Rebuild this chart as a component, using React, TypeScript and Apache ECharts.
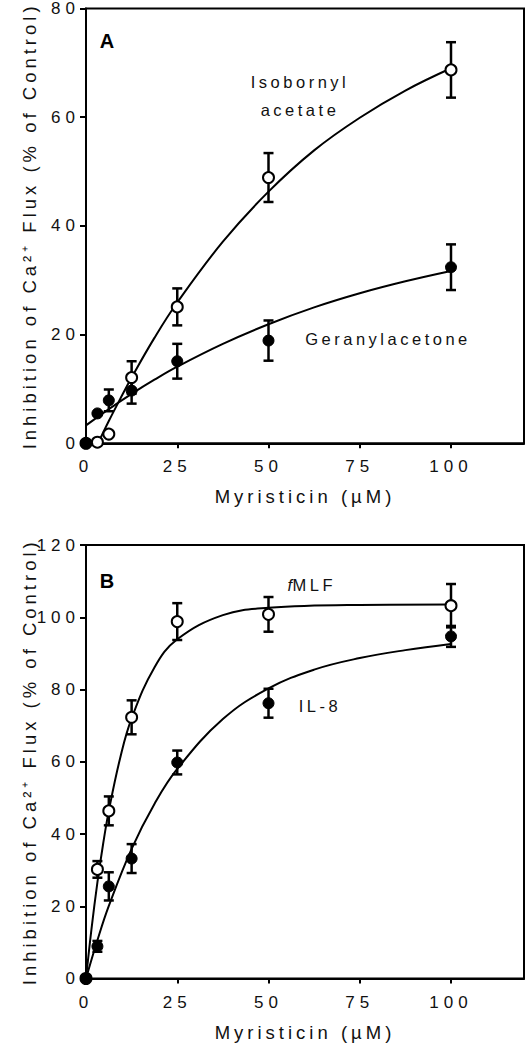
import React, { useEffect, useRef } from "react";
import * as echarts from "echarts";

// ---- data ----
const DOSES = [0, 3.125, 6.25, 12.5, 25, 50, 100];

// Panel A
const A_ISO_MEAN = [0, 0.2, 1.7, 12.1, 25.1, 48.9, 68.7];
const A_ISO_SEM = [0, 0, 0, 3.0, 3.4, 4.5, 5.1];
const A_GER_MEAN = [0, 5.5, 7.9, 9.7, 15.1, 18.9, 32.4];
const A_GER_SEM = [0, 0, 2.0, 2.4, 3.2, 3.7, 4.2];

const A_FIT_ISO_X = [3.3, 6.25, 9.4, 12.5, 18.75, 25, 37.5, 50, 62.5, 75, 87.5, 100];
const A_FIT_ISO_Y = [0, 4.1, 8.2, 12.1, 19.4, 25.9, 37.1, 46.3, 53.9, 59.9, 64.9, 69.0];
const A_FIT_GER_X = [0, 6.25, 12.5, 18.75, 25, 37.5, 50, 62.5, 75, 87.5, 100];
const A_FIT_GER_Y = [3.3, 6.3, 9.1, 11.7, 14.1, 18.3, 21.9, 25.0, 27.6, 29.8, 31.7];

// Panel B
const B_FMLF_MEAN = [0, 30.2, 46.4, 72.3, 98.8, 100.8, 103.2];
const B_FMLF_SEM = [0, 2.3, 4.0, 4.7, 5.1, 4.8, 6.0];
const B_IL8_MEAN = [0, 8.9, 25.5, 33.2, 59.8, 76.2, 94.7];
const B_IL8_SEM = [0, 1.5, 3.9, 4.0, 3.3, 4.0, 2.9];

const B_FIT_FMLF_X = [0, 1.5, 3.125, 4.7, 6.25, 9.4, 12.5, 18.75, 25, 37.5, 50, 75, 100];
const B_FIT_FMLF_Y = [0, 13.7, 26.6, 37.3, 46.4, 61.2, 72.0, 86.1, 93.9, 100.6, 102.6, 103.4, 103.5];
const B_FIT_IL8_X = [0, 3.125, 6.25, 12.5, 18.75, 25, 37.5, 50, 62.5, 75, 87.5, 100];
const B_FIT_IL8_Y = [0, 10.6, 20.1, 35.9, 48.3, 58.0, 71.8, 80.3, 85.5, 88.7, 90.9, 92.6];

// ---- axes / labels ----
const X_TICKS = [0, 25, 50, 75, 100];
const X_MAX = 120;
const Y_MAX = [80, 120];
const Y_INTERVAL = 20;
const X_TITLE = "Myristicin (µM)";
const Y_TITLE = "Inhibition of Ca²⁺ Flux (% of Control)";

const FONT = '"Liberation Sans", Arial, Helvetica, sans-serif';
const TXT = "#111";

const pairs = (xs: number[], ys: number[]) => xs.map((x, i) => [x, ys[i]]);
const triples = (xs: number[], ys: number[], es: number[]) => xs.map((x, i) => [x, ys[i], es[i]]);

function errorBarRender(params: any, api: any) {
  const x = api.value(0);
  const y = api.value(1);
  const e = api.value(2);
  if (!e) return null;
  const top = api.coord([x, y + e]);
  const bot = api.coord([x, y - e]);
  const hw = 5;
  const style = { stroke: "#000", lineWidth: 2.5 };
  return {
    type: "group",
    children: [
      { type: "line", shape: { x1: top[0], y1: top[1], x2: bot[0], y2: bot[1] }, style },
      { type: "line", shape: { x1: top[0] - hw, y1: top[1], x2: top[0] + hw, y2: top[1] }, style },
      { type: "line", shape: { x1: bot[0] - hw, y1: bot[1], x2: bot[0] + hw, y2: bot[1] }, style },
    ],
  };
}

function panelSeries(
  gi: number,
  openMean: number[],
  openSem: number[],
  filledMean: number[],
  filledSem: number[],
  fitOpen: number[][],
  fitFilled: number[][]
) {
  const lineStyle = { color: "#000", width: 2 };
  const fit = (data: number[][]) => ({
    type: "line",
    xAxisIndex: gi,
    yAxisIndex: gi,
    data,
    smooth: 0.4,
    showSymbol: false,
    symbol: "none",
    lineStyle,
    z: 2,
    silent: true,
  });
  return [
    fit(fitOpen),
    fit(fitFilled),
    {
      type: "custom",
      xAxisIndex: gi,
      yAxisIndex: gi,
      data: triples(DOSES, openMean, openSem),
      encode: { x: 0, y: 1 },
      renderItem: errorBarRender,
      clip: false,
      z: 3,
      silent: true,
    },
    {
      type: "custom",
      xAxisIndex: gi,
      yAxisIndex: gi,
      data: triples(DOSES, filledMean, filledSem),
      encode: { x: 0, y: 1 },
      renderItem: errorBarRender,
      clip: false,
      z: 3,
      silent: true,
    },
    {
      type: "scatter",
      xAxisIndex: gi,
      yAxisIndex: gi,
      data: pairs(DOSES, openMean),
      symbol: "circle",
      symbolSize: 11,
      itemStyle: { color: "#fff", borderColor: "#000", borderWidth: 2, opacity: 1 },
      clip: false,
      z: 4,
      silent: true,
    },
    {
      type: "scatter",
      xAxisIndex: gi,
      yAxisIndex: gi,
      data: pairs(DOSES, filledMean),
      symbol: "circle",
      symbolSize: 11,
      itemStyle: { color: "#000", borderColor: "#000", borderWidth: 1, opacity: 1 },
      clip: false,
      z: 5,
      silent: true,
    },
  ];
}

export default function App() {
  const ref = useRef<HTMLDivElement>(null);

  useEffect(() => {
    if (!ref.current) return;
    const chart = echarts.init(ref.current, null, { renderer: "svg" });

    const grids = [
      { left: 86, right: 2, top: 5, height: 438.3 },
      { left: 86, right: 2, top: 545, height: 433.5 },
    ].map((g) => ({ ...g, show: true, borderColor: "#000", borderWidth: 2, backgroundColor: "transparent" }));

    const xAxes = [0, 1].map((i) => ({
      type: "value",
      gridIndex: i,
      min: 0,
      max: X_MAX,
      name: X_TITLE,
      nameLocation: "middle",
      nameGap: 44,
      nameTextStyle: { fontSize: 18.5, color: TXT, fontFamily: FONT },
      axisLine: { show: true, onZero: false, lineStyle: { color: "#000", width: 2 } },
      axisTick: { show: true, length: 5, customValues: X_TICKS, lineStyle: { color: "#000", width: 2 } },
      axisLabel: { customValues: X_TICKS, margin: 15, fontSize: 17, color: TXT, fontFamily: FONT },
      splitLine: { show: false },
    }));

    const yAxes = [0, 1].map((i) => ({
      type: "value",
      gridIndex: i,
      min: 0,
      max: Y_MAX[i],
      interval: Y_INTERVAL,
      name: Y_TITLE,
      nameLocation: "middle",
      nameRotate: 90,
      nameGap: 47,
      nameTextStyle: { fontSize: 18.5, color: TXT, fontFamily: FONT },
      axisLine: { show: true, onZero: false, lineStyle: { color: "#000", width: 2 } },
      axisTick: { show: true, length: 6, lineStyle: { color: "#000", width: 2 } },
      axisLabel: { margin: 6, fontSize: 17, color: TXT, fontFamily: FONT, padding: [6, 0, 0, 0] },
      splitLine: { show: false },
    }));

    const ann = (text: string, x: number, y: number, extra: any = {}) => ({
      type: "text",
      x,
      y,
      z: 10,
      silent: true,
      style: {
        text,
        textAlign: "center",
        textVerticalAlign: "middle",
        fontSize: 16.5,
        fontFamily: FONT,
        fill: TXT,
        ...extra,
      },
    });

    const option: any = {
      animation: false,
      backgroundColor: "#fff",
      grid: grids,
      xAxis: xAxes,
      yAxis: yAxes,
      series: [
        ...panelSeries(
          0,
          A_ISO_MEAN,
          A_ISO_SEM,
          A_GER_MEAN,
          A_GER_SEM,
          pairs(A_FIT_ISO_X, A_FIT_ISO_Y),
          pairs(A_FIT_GER_X, A_FIT_GER_Y)
        ),
        ...panelSeries(
          1,
          B_FMLF_MEAN,
          B_FMLF_SEM,
          B_IL8_MEAN,
          B_IL8_SEM,
          pairs(B_FIT_FMLF_X, B_FIT_FMLF_Y),
          pairs(B_FIT_IL8_X, B_FIT_IL8_Y)
        ),
      ],
      graphic: [
        ann("A", 107, 40.5, { fontSize: 20, fontWeight: "bold", fill: "#000" }),
        ann("B", 107, 581, { fontSize: 20, fontWeight: "bold", fill: "#000" }),
        ann("Isobornyl", 300, 81.7),
        ann("acetate", 300, 109.5),
        ann("Geranylacetone", 388, 339.2),
        ann("IL-8", 320, 706.3),
        ann("f", 292, 585, { textAlign: "right", fontStyle: "italic" }),
        ann("MLF", 292.5, 585, { textAlign: "left" }),
      ],
    };

    chart.setOption(option);
    return () => chart.dispose();
  }, []);

  const css = `
    .fig text { letter-spacing: 3.5px; }
    .fig text[style*="17px"] { letter-spacing: 5px; }
    .fig text[style*="18.5px"] { letter-spacing: 4px; }
    .fig text[style*="bold"] { letter-spacing: 0; }
    .fig text[style*="italic"] { letter-spacing: 0; }
  `;

  return (
    <div style={{ position: "absolute", left: 0, top: 0, width: 526, height: 1050, background: "#fff" }}>
      <style>{css}</style>
      <div className="fig" ref={ref} style={{ width: 526, height: 1050 }} />
    </div>
  );
}
